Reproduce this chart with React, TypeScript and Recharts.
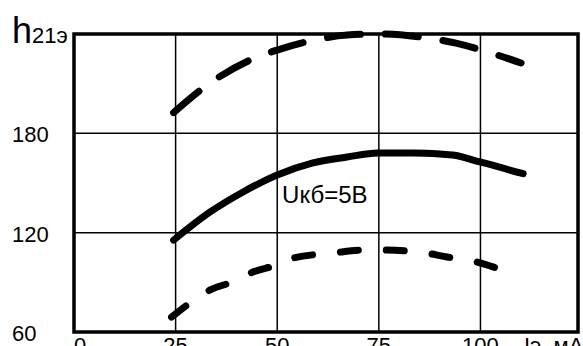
import React from 'react';
import { LineChart, Line, XAxis, YAxis, CartesianGrid, ReferenceArea, ReferenceDot, Label } from 'recharts';

// Emitter current Iэ, мA (x positions)
const upperX = [24.5, 33.5, 44.5, 50, 59.3, 67.2, 75.3, 85.1, 93.7, 101.8, 110];
const upperH = [192.5, 210.4, 225.5, 230.3, 236.4, 239.4, 240, 238.2, 234.6, 229.1, 222.5];

const midX = [24.5, 33.5, 41.6, 50, 58.8, 67.2, 74.8, 83.4, 90, 93.2, 99.9, 110.5];
const midH = [115.5, 132.5, 144.6, 154.8, 162.1, 165.7, 168.1, 168.1, 167.5, 166.9, 162.7, 155.6];

const lowerX = [24, 28.5, 33.5, 38.9, 44, 49.9, 53.9, 63.7, 71.1, 75.3, 85.1, 91.8, 96.9, 105];
const lowerH = [69, 77.5, 85.4, 90.2, 96.2, 100.5, 104.7, 107.7, 109.5, 109.5, 108.3, 105.3, 103.5, 97.8];

const xTicks = [0, 25, 50, 75, 100];
const yTicks = [60, 120, 180, 240];
const xUnit = 'Iэ, мA';
const curveLabel = 'Uкб=5В';
const curveLabelAt = { x: 51.2, y: 138 };

const toRows = (xs: number[], hs: number[]) => xs.map((x, i) => ({ x, h: hs[i] }));
const upperData = toRows(upperX, upperH);
const midData = toRows(midX, midH);
const lowerData = toRows(lowerX, lowerH);

const FONT = '"Liberation Sans", Arial, sans-serif';

const YTick = (props: any) => {
  const { y, payload } = props;
  if (payload.value === 240) {
    return (
      <text x={12} y={y + 9} fontFamily={FONT} fill="#000">
        <tspan fontSize={36}>h</tspan>
        <tspan fontSize={22}>21э</tspan>
      </text>
    );
  }
  return (
    <text x={12} y={y + 9} fontFamily={FONT} fontSize={22} fill="#000" textAnchor="start">
      {payload.value}
    </text>
  );
};

const XTick = (props: any) => {
  const { x, payload } = props;
  const isZero = payload.value === 0;
  return (
    <text x={x} y={353} fontFamily={FONT} fontSize={22} fill="#000" textAnchor={isZero ? 'start' : 'middle'}>
      {payload.value}
    </text>
  );
};

export default function App() {
  return (
    <div style={{ position: 'absolute', left: 0, top: 0, width: 583, height: 346, background: '#fff', overflow: 'hidden' }}>
      <LineChart width={583} height={346} margin={{ top: 34, right: 5, bottom: 0, left: 0 }}>
        <CartesianGrid stroke="#000" strokeWidth={1.5} />
        <XAxis
          dataKey="x"
          type="number"
          domain={[0, 124]}
          ticks={xTicks}
          height={14}
          axisLine={false}
          tickLine={false}
          tick={<XTick />}
          interval={0}
        >
          <Label
            content={() => (
              <text x={524} y={353} fontFamily={FONT} fontSize={22} fill="#000">
                {xUnit}
              </text>
            )}
          />
        </XAxis>
        <YAxis
          type="number"
          domain={[60, 240]}
          ticks={yTicks}
          width={74}
          axisLine={false}
          tickLine={false}
          tick={<YTick />}
          interval={0}
        />
        <ReferenceArea x1={0} x2={124} y1={60} y2={240} fill="none" stroke="#000" strokeWidth={3.5} />
        <Line
          data={upperData}
          dataKey="h"
          type="monotone"
          stroke="#000"
          strokeWidth={7}
          strokeLinecap="round"
          strokeDasharray="33 25"
          dot={false}
          isAnimationActive={false}
        />
        <Line
          data={midData}
          dataKey="h"
          type="monotone"
          stroke="#000"
          strokeWidth={7}
          strokeLinecap="round"
          dot={false}
          isAnimationActive={false}
        />
        <Line
          data={lowerData}
          dataKey="h"
          type="monotone"
          stroke="#000"
          strokeWidth={7}
          strokeLinecap="round"
          strokeDasharray="18 28"
          dot={false}
          isAnimationActive={false}
        />
        <ReferenceDot
          x={curveLabelAt.x}
          y={curveLabelAt.y}
          r={0}
          fill="none"
          stroke="none"
          label={(p: any) => (
            <text x={p.viewBox.x} y={p.viewBox.y} fontFamily={FONT} fontSize={24} fill="#000">
              {curveLabel}
            </text>
          )}
        />
      </LineChart>
    </div>
  );
}
